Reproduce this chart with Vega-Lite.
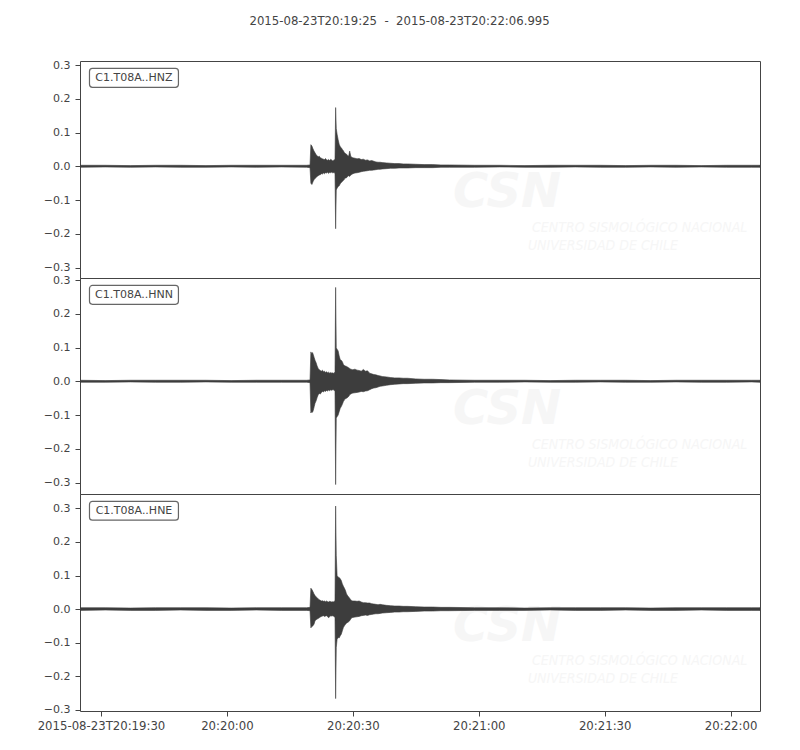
{
  "$schema": "https://vega.github.io/schema/vega-lite/v6.json",
  "padding": {"left": 36, "top": 15, "right": 10, "bottom": 10},
  "background": "white",
  "bounds": "flush",
  "spacing": 0,
  "title": {"text": "2015-08-23T20:19:25\u00a0\u00a0-\u00a0\u00a02015-08-23T20:22:06.995", "font": "DejaVu Sans", "fontSize": 11.7, "fontWeight": "normal", "color": "#444444", "anchor": "middle", "dx": 1, "offset": 31},
  "config": {
    "font": "DejaVu Sans",
    "view": {"stroke": "#444444", "strokeWidth": 1},
    "concat": {"spacing": 0}
  },
  "datasets": {
    "wave": [
      {"ch":"HNZ","t":0,"lo":-0.003,"hi":0.003},{"ch":"HNZ","t":6,"lo":-0.002,"hi":0.003},{"ch":"HNZ","t":12,"lo":-0.003,"hi":0.002},{"ch":"HNZ","t":18,"lo":-0.002,"hi":0.003},{"ch":"HNZ","t":24,"lo":-0.003,"hi":0.003},{"ch":"HNZ","t":30,"lo":-0.003,"hi":0.002},{"ch":"HNZ","t":36,"lo":-0.002,"hi":0.003},{"ch":"HNZ","t":42,"lo":-0.003,"hi":0.003},{"ch":"HNZ","t":48,"lo":-0.002,"hi":0.003},{"ch":"HNZ","t":54,"lo":-0.003,"hi":0.003},
      {"ch":"HNZ","t":54.8,"lo":-0.004,"hi":0.004},{"ch":"HNZ","t":55.0,"lo":-0.050,"hi":0.064},{"ch":"HNZ","t":55.25,"lo":-0.054,"hi":0.060},{"ch":"HNZ","t":55.5,"lo":-0.046,"hi":0.052},{"ch":"HNZ","t":55.75,"lo":-0.040,"hi":0.045},{"ch":"HNZ","t":56.0,"lo":-0.036,"hi":0.040},{"ch":"HNZ","t":56.25,"lo":-0.033,"hi":0.034},{"ch":"HNZ","t":56.5,"lo":-0.030,"hi":0.031},{"ch":"HNZ","t":56.75,"lo":-0.028,"hi":0.028},{"ch":"HNZ","t":57.0,"lo":-0.026,"hi":0.030},{"ch":"HNZ","t":57.25,"lo":-0.025,"hi":0.025},{"ch":"HNZ","t":57.5,"lo":-0.022,"hi":0.024},{"ch":"HNZ","t":57.75,"lo":-0.023,"hi":0.022},{"ch":"HNZ","t":58.0,"lo":-0.020,"hi":0.021},{"ch":"HNZ","t":58.25,"lo":-0.022,"hi":0.020},{"ch":"HNZ","t":58.5,"lo":-0.019,"hi":0.023},{"ch":"HNZ","t":58.75,"lo":-0.020,"hi":0.019},{"ch":"HNZ","t":59.0,"lo":-0.018,"hi":0.018},{"ch":"HNZ","t":59.25,"lo":-0.021,"hi":0.020},{"ch":"HNZ","t":59.5,"lo":-0.018,"hi":0.017},{"ch":"HNZ","t":59.75,"lo":-0.019,"hi":0.021},{"ch":"HNZ","t":60.0,"lo":-0.017,"hi":0.018},{"ch":"HNZ","t":60.25,"lo":-0.020,"hi":0.016},{"ch":"HNZ","t":60.5,"lo":-0.018,"hi":0.019},{"ch":"HNZ","t":60.75,"lo":-0.022,"hi":0.020},{"ch":"HNZ","t":60.9,"lo":-0.185,"hi":0.174},{"ch":"HNZ","t":61.05,"lo":-0.070,"hi":0.112},{"ch":"HNZ","t":61.25,"lo":-0.065,"hi":0.095},{"ch":"HNZ","t":61.5,"lo":-0.060,"hi":0.079},{"ch":"HNZ","t":61.75,"lo":-0.058,"hi":0.065},{"ch":"HNZ","t":62.0,"lo":-0.052,"hi":0.058},{"ch":"HNZ","t":62.25,"lo":-0.048,"hi":0.055},{"ch":"HNZ","t":62.5,"lo":-0.045,"hi":0.050},{"ch":"HNZ","t":62.75,"lo":-0.042,"hi":0.046},{"ch":"HNZ","t":63.0,"lo":-0.038,"hi":0.040},{"ch":"HNZ","t":63.25,"lo":-0.035,"hi":0.038},{"ch":"HNZ","t":63.5,"lo":-0.034,"hi":0.036},{"ch":"HNZ","t":63.75,"lo":-0.030,"hi":0.032},{"ch":"HNZ","t":64.0,"lo":-0.028,"hi":0.030},{"ch":"HNZ","t":64.25,"lo":-0.030,"hi":0.045},{"ch":"HNZ","t":64.5,"lo":-0.026,"hi":0.030},{"ch":"HNZ","t":64.75,"lo":-0.024,"hi":0.027},{"ch":"HNZ","t":65.0,"lo":-0.022,"hi":0.025},{"ch":"HNZ","t":65.5,"lo":-0.020,"hi":0.024},{"ch":"HNZ","t":66.0,"lo":-0.019,"hi":0.022},{"ch":"HNZ","t":66.5,"lo":-0.018,"hi":0.023},{"ch":"HNZ","t":67.0,"lo":-0.016,"hi":0.020},{"ch":"HNZ","t":67.5,"lo":-0.015,"hi":0.021},{"ch":"HNZ","t":68.0,"lo":-0.014,"hi":0.018},{"ch":"HNZ","t":68.5,"lo":-0.013,"hi":0.019},{"ch":"HNZ","t":69.0,"lo":-0.012,"hi":0.016},{"ch":"HNZ","t":69.5,"lo":-0.012,"hi":0.017},{"ch":"HNZ","t":70.0,"lo":-0.011,"hi":0.015},{"ch":"HNZ","t":70.5,"lo":-0.010,"hi":0.013},{"ch":"HNZ","t":71.0,"lo":-0.009,"hi":0.012},{"ch":"HNZ","t":71.5,"lo":-0.009,"hi":0.012},{"ch":"HNZ","t":72.0,"lo":-0.008,"hi":0.011},{"ch":"HNZ","t":73.0,"lo":-0.007,"hi":0.010},{"ch":"HNZ","t":74.0,"lo":-0.006,"hi":0.009},{"ch":"HNZ","t":75.0,"lo":-0.006,"hi":0.008},{"ch":"HNZ","t":76.0,"lo":-0.005,"hi":0.008},{"ch":"HNZ","t":77.0,"lo":-0.005,"hi":0.007},{"ch":"HNZ","t":78.0,"lo":-0.005,"hi":0.007},{"ch":"HNZ","t":80.0,"lo":-0.004,"hi":0.006},{"ch":"HNZ","t":82.0,"lo":-0.004,"hi":0.005},{"ch":"HNZ","t":84.0,"lo":-0.004,"hi":0.005},{"ch":"HNZ","t":86.0,"lo":-0.003,"hi":0.004},{"ch":"HNZ","t":88.0,"lo":-0.003,"hi":0.004},
      {"ch":"HNZ","t":94,"lo":-0.003,"hi":0.003},{"ch":"HNZ","t":100,"lo":-0.002,"hi":0.003},{"ch":"HNZ","t":106,"lo":-0.003,"hi":0.002},{"ch":"HNZ","t":112,"lo":-0.003,"hi":0.003},{"ch":"HNZ","t":118,"lo":-0.002,"hi":0.003},{"ch":"HNZ","t":124,"lo":-0.003,"hi":0.003},{"ch":"HNZ","t":130,"lo":-0.003,"hi":0.002},{"ch":"HNZ","t":136,"lo":-0.002,"hi":0.003},{"ch":"HNZ","t":142,"lo":-0.003,"hi":0.003},{"ch":"HNZ","t":148,"lo":-0.002,"hi":0.002},{"ch":"HNZ","t":154,"lo":-0.003,"hi":0.003},{"ch":"HNZ","t":160,"lo":-0.003,"hi":0.003},{"ch":"HNZ","t":162,"lo":-0.003,"hi":0.003},

      {"ch":"HNN","t":0,"lo":-0.003,"hi":0.003},{"ch":"HNN","t":6,"lo":-0.003,"hi":0.002},{"ch":"HNN","t":12,"lo":-0.002,"hi":0.003},{"ch":"HNN","t":18,"lo":-0.003,"hi":0.003},{"ch":"HNN","t":24,"lo":-0.003,"hi":0.003},{"ch":"HNN","t":30,"lo":-0.002,"hi":0.003},{"ch":"HNN","t":36,"lo":-0.003,"hi":0.002},{"ch":"HNN","t":42,"lo":-0.003,"hi":0.003},{"ch":"HNN","t":48,"lo":-0.003,"hi":0.003},{"ch":"HNN","t":54,"lo":-0.003,"hi":0.003},
      {"ch":"HNN","t":54.8,"lo":-0.004,"hi":0.004},{"ch":"HNN","t":55.0,"lo":-0.094,"hi":0.087},{"ch":"HNN","t":55.2,"lo":-0.090,"hi":0.082},{"ch":"HNN","t":55.4,"lo":-0.092,"hi":0.085},{"ch":"HNN","t":55.6,"lo":-0.085,"hi":0.078},{"ch":"HNN","t":55.8,"lo":-0.075,"hi":0.070},{"ch":"HNN","t":56.0,"lo":-0.065,"hi":0.062},{"ch":"HNN","t":56.25,"lo":-0.058,"hi":0.055},{"ch":"HNN","t":56.5,"lo":-0.048,"hi":0.045},{"ch":"HNN","t":56.75,"lo":-0.040,"hi":0.038},{"ch":"HNN","t":57.0,"lo":-0.036,"hi":0.034},{"ch":"HNN","t":57.25,"lo":-0.038,"hi":0.032},{"ch":"HNN","t":57.5,"lo":-0.033,"hi":0.030},{"ch":"HNN","t":57.75,"lo":-0.030,"hi":0.033},{"ch":"HNN","t":58.0,"lo":-0.032,"hi":0.028},{"ch":"HNN","t":58.25,"lo":-0.028,"hi":0.030},{"ch":"HNN","t":58.5,"lo":-0.030,"hi":0.026},{"ch":"HNN","t":58.75,"lo":-0.027,"hi":0.028},{"ch":"HNN","t":59.0,"lo":-0.029,"hi":0.025},{"ch":"HNN","t":59.25,"lo":-0.026,"hi":0.027},{"ch":"HNN","t":59.5,"lo":-0.028,"hi":0.024},{"ch":"HNN","t":59.75,"lo":-0.025,"hi":0.026},{"ch":"HNN","t":60.0,"lo":-0.027,"hi":0.024},{"ch":"HNN","t":60.25,"lo":-0.024,"hi":0.025},{"ch":"HNN","t":60.5,"lo":-0.026,"hi":0.023},{"ch":"HNN","t":60.75,"lo":-0.030,"hi":0.028},{"ch":"HNN","t":60.9,"lo":-0.306,"hi":0.278},{"ch":"HNN","t":61.05,"lo":-0.109,"hi":0.099},{"ch":"HNN","t":61.25,"lo":-0.105,"hi":0.095},{"ch":"HNN","t":61.5,"lo":-0.100,"hi":0.090},{"ch":"HNN","t":61.75,"lo":-0.090,"hi":0.075},{"ch":"HNN","t":62.0,"lo":-0.080,"hi":0.064},{"ch":"HNN","t":62.25,"lo":-0.075,"hi":0.062},{"ch":"HNN","t":62.5,"lo":-0.068,"hi":0.058},{"ch":"HNN","t":62.75,"lo":-0.060,"hi":0.050},{"ch":"HNN","t":63.0,"lo":-0.055,"hi":0.047},{"ch":"HNN","t":63.25,"lo":-0.052,"hi":0.045},{"ch":"HNN","t":63.5,"lo":-0.050,"hi":0.044},{"ch":"HNN","t":63.75,"lo":-0.048,"hi":0.042},{"ch":"HNN","t":64.0,"lo":-0.045,"hi":0.040},{"ch":"HNN","t":64.25,"lo":-0.040,"hi":0.038},{"ch":"HNN","t":64.5,"lo":-0.038,"hi":0.036},{"ch":"HNN","t":64.75,"lo":-0.036,"hi":0.035},{"ch":"HNN","t":65.0,"lo":-0.035,"hi":0.034},{"ch":"HNN","t":65.5,"lo":-0.034,"hi":0.036},{"ch":"HNN","t":66.0,"lo":-0.033,"hi":0.033},{"ch":"HNN","t":66.5,"lo":-0.032,"hi":0.032},{"ch":"HNN","t":67.0,"lo":-0.030,"hi":0.030},{"ch":"HNN","t":67.5,"lo":-0.031,"hi":0.035},{"ch":"HNN","t":68.0,"lo":-0.029,"hi":0.030},{"ch":"HNN","t":68.5,"lo":-0.028,"hi":0.031},{"ch":"HNN","t":69.0,"lo":-0.025,"hi":0.024},{"ch":"HNN","t":69.5,"lo":-0.022,"hi":0.022},{"ch":"HNN","t":70.0,"lo":-0.020,"hi":0.020},{"ch":"HNN","t":70.5,"lo":-0.019,"hi":0.019},{"ch":"HNN","t":71.0,"lo":-0.017,"hi":0.017},{"ch":"HNN","t":71.5,"lo":-0.015,"hi":0.016},{"ch":"HNN","t":72.0,"lo":-0.014,"hi":0.014},{"ch":"HNN","t":73.0,"lo":-0.012,"hi":0.013},{"ch":"HNN","t":74.0,"lo":-0.010,"hi":0.011},{"ch":"HNN","t":75.0,"lo":-0.009,"hi":0.010},{"ch":"HNN","t":76.0,"lo":-0.008,"hi":0.010},{"ch":"HNN","t":77.0,"lo":-0.007,"hi":0.009},{"ch":"HNN","t":78.0,"lo":-0.007,"hi":0.009},{"ch":"HNN","t":80.0,"lo":-0.006,"hi":0.007},{"ch":"HNN","t":82.0,"lo":-0.005,"hi":0.006},{"ch":"HNN","t":84.0,"lo":-0.005,"hi":0.006},{"ch":"HNN","t":86.0,"lo":-0.004,"hi":0.005},{"ch":"HNN","t":88.0,"lo":-0.004,"hi":0.004},
      {"ch":"HNN","t":94,"lo":-0.003,"hi":0.003},{"ch":"HNN","t":100,"lo":-0.003,"hi":0.003},{"ch":"HNN","t":106,"lo":-0.002,"hi":0.003},{"ch":"HNN","t":112,"lo":-0.003,"hi":0.002},{"ch":"HNN","t":118,"lo":-0.003,"hi":0.003},{"ch":"HNN","t":124,"lo":-0.002,"hi":0.003},{"ch":"HNN","t":130,"lo":-0.003,"hi":0.003},{"ch":"HNN","t":136,"lo":-0.003,"hi":0.002},{"ch":"HNN","t":142,"lo":-0.002,"hi":0.003},{"ch":"HNN","t":148,"lo":-0.003,"hi":0.003},{"ch":"HNN","t":154,"lo":-0.003,"hi":0.003},{"ch":"HNN","t":160,"lo":-0.002,"hi":0.003},{"ch":"HNN","t":162,"lo":-0.003,"hi":0.003},

      {"ch":"HNE","t":0,"lo":-0.004,"hi":0.004},{"ch":"HNE","t":6,"lo":-0.003,"hi":0.004},{"ch":"HNE","t":12,"lo":-0.004,"hi":0.003},{"ch":"HNE","t":18,"lo":-0.004,"hi":0.004},{"ch":"HNE","t":24,"lo":-0.003,"hi":0.004},{"ch":"HNE","t":30,"lo":-0.004,"hi":0.004},{"ch":"HNE","t":36,"lo":-0.004,"hi":0.003},{"ch":"HNE","t":42,"lo":-0.003,"hi":0.004},{"ch":"HNE","t":48,"lo":-0.004,"hi":0.004},{"ch":"HNE","t":54,"lo":-0.004,"hi":0.004},
      {"ch":"HNE","t":54.8,"lo":-0.005,"hi":0.005},{"ch":"HNE","t":55.0,"lo":-0.056,"hi":0.062},{"ch":"HNE","t":55.25,"lo":-0.052,"hi":0.058},{"ch":"HNE","t":55.5,"lo":-0.050,"hi":0.052},{"ch":"HNE","t":55.75,"lo":-0.045,"hi":0.045},{"ch":"HNE","t":56.0,"lo":-0.035,"hi":0.040},{"ch":"HNE","t":56.25,"lo":-0.032,"hi":0.036},{"ch":"HNE","t":56.5,"lo":-0.030,"hi":0.034},{"ch":"HNE","t":56.75,"lo":-0.028,"hi":0.030},{"ch":"HNE","t":57.0,"lo":-0.026,"hi":0.028},{"ch":"HNE","t":57.25,"lo":-0.024,"hi":0.026},{"ch":"HNE","t":57.5,"lo":-0.022,"hi":0.024},{"ch":"HNE","t":57.75,"lo":-0.021,"hi":0.025},{"ch":"HNE","t":58.0,"lo":-0.020,"hi":0.023},{"ch":"HNE","t":58.25,"lo":-0.022,"hi":0.024},{"ch":"HNE","t":58.5,"lo":-0.021,"hi":0.022},{"ch":"HNE","t":58.75,"lo":-0.020,"hi":0.024},{"ch":"HNE","t":59.0,"lo":-0.023,"hi":0.022},{"ch":"HNE","t":59.25,"lo":-0.026,"hi":0.021},{"ch":"HNE","t":59.5,"lo":-0.022,"hi":0.023},{"ch":"HNE","t":59.75,"lo":-0.020,"hi":0.022},{"ch":"HNE","t":60.0,"lo":-0.021,"hi":0.021},{"ch":"HNE","t":60.25,"lo":-0.020,"hi":0.022},{"ch":"HNE","t":60.5,"lo":-0.022,"hi":0.021},{"ch":"HNE","t":60.75,"lo":-0.025,"hi":0.026},{"ch":"HNE","t":60.9,"lo":-0.267,"hi":0.307},{"ch":"HNE","t":61.05,"lo":-0.115,"hi":0.160},{"ch":"HNE","t":61.25,"lo":-0.090,"hi":0.100},{"ch":"HNE","t":61.5,"lo":-0.085,"hi":0.095},{"ch":"HNE","t":61.75,"lo":-0.086,"hi":0.094},{"ch":"HNE","t":62.0,"lo":-0.080,"hi":0.090},{"ch":"HNE","t":62.25,"lo":-0.075,"hi":0.085},{"ch":"HNE","t":62.5,"lo":-0.065,"hi":0.075},{"ch":"HNE","t":62.75,"lo":-0.055,"hi":0.068},{"ch":"HNE","t":63.0,"lo":-0.050,"hi":0.062},{"ch":"HNE","t":63.25,"lo":-0.045,"hi":0.055},{"ch":"HNE","t":63.5,"lo":-0.042,"hi":0.045},{"ch":"HNE","t":63.75,"lo":-0.040,"hi":0.040},{"ch":"HNE","t":64.0,"lo":-0.038,"hi":0.036},{"ch":"HNE","t":64.25,"lo":-0.035,"hi":0.032},{"ch":"HNE","t":64.5,"lo":-0.030,"hi":0.028},{"ch":"HNE","t":64.75,"lo":-0.026,"hi":0.025},{"ch":"HNE","t":65.0,"lo":-0.025,"hi":0.024},{"ch":"HNE","t":65.5,"lo":-0.024,"hi":0.024},{"ch":"HNE","t":66.0,"lo":-0.023,"hi":0.023},{"ch":"HNE","t":66.5,"lo":-0.022,"hi":0.024},{"ch":"HNE","t":67.0,"lo":-0.020,"hi":0.021},{"ch":"HNE","t":67.5,"lo":-0.019,"hi":0.019},{"ch":"HNE","t":68.0,"lo":-0.018,"hi":0.019},{"ch":"HNE","t":68.5,"lo":-0.019,"hi":0.018},{"ch":"HNE","t":69.0,"lo":-0.017,"hi":0.018},{"ch":"HNE","t":69.5,"lo":-0.016,"hi":0.016},{"ch":"HNE","t":70.0,"lo":-0.015,"hi":0.015},{"ch":"HNE","t":70.5,"lo":-0.014,"hi":0.014},{"ch":"HNE","t":71.0,"lo":-0.014,"hi":0.013},{"ch":"HNE","t":71.5,"lo":-0.013,"hi":0.014},{"ch":"HNE","t":72.0,"lo":-0.012,"hi":0.013},{"ch":"HNE","t":73.0,"lo":-0.011,"hi":0.011},{"ch":"HNE","t":74.0,"lo":-0.010,"hi":0.010},{"ch":"HNE","t":75.0,"lo":-0.009,"hi":0.009},{"ch":"HNE","t":76.0,"lo":-0.009,"hi":0.009},{"ch":"HNE","t":77.0,"lo":-0.008,"hi":0.008},{"ch":"HNE","t":78.0,"lo":-0.008,"hi":0.008},{"ch":"HNE","t":80.0,"lo":-0.007,"hi":0.007},{"ch":"HNE","t":82.0,"lo":-0.006,"hi":0.006},{"ch":"HNE","t":84.0,"lo":-0.006,"hi":0.006},{"ch":"HNE","t":86.0,"lo":-0.005,"hi":0.005},{"ch":"HNE","t":88.0,"lo":-0.005,"hi":0.005},
      {"ch":"HNE","t":94,"lo":-0.004,"hi":0.004},{"ch":"HNE","t":100,"lo":-0.004,"hi":0.004},{"ch":"HNE","t":106,"lo":-0.004,"hi":0.003},{"ch":"HNE","t":112,"lo":-0.003,"hi":0.004},{"ch":"HNE","t":118,"lo":-0.004,"hi":0.004},{"ch":"HNE","t":124,"lo":-0.004,"hi":0.004},{"ch":"HNE","t":130,"lo":-0.003,"hi":0.004},{"ch":"HNE","t":136,"lo":-0.004,"hi":0.003},{"ch":"HNE","t":142,"lo":-0.004,"hi":0.004},{"ch":"HNE","t":148,"lo":-0.003,"hi":0.004},{"ch":"HNE","t":154,"lo":-0.004,"hi":0.004},{"ch":"HNE","t":160,"lo":-0.004,"hi":0.004},{"ch":"HNE","t":162,"lo":-0.004,"hi":0.004}
    ],
    "labels": [
      {"ch":"HNZ","t":2.26,"t2":23.45,"lo":0.234,"hi":0.290,"tc":12.86,"yc":0.262,"txt":"C1.T08A..HNZ"},
      {"ch":"HNN","t":2.26,"t2":23.45,"lo":0.228,"hi":0.284,"tc":12.86,"yc":0.256,"txt":"C1.T08A..HNN"},
      {"ch":"HNE","t":2.26,"t2":23.45,"lo":0.265,"hi":0.321,"tc":12.86,"yc":0.293,"txt":"C1.T08A..HNE"}
    ],
    "wm": [
      {"ch":"HNZ","kind":"logo","t":88.85,"a":-0.122,"txt":"CSN"},
      {"ch":"HNZ","kind":"line","t":107.7,"a":-0.196,"txt":"CENTRO SISMOLÓGICO NACIONAL"},
      {"ch":"HNZ","kind":"line","t":106.7,"a":-0.249,"txt":"UNIVERSIDAD DE CHILE"},
      {"ch":"HNN","kind":"logo","t":88.85,"a":-0.127,"txt":"CSN"},
      {"ch":"HNN","kind":"line","t":107.7,"a":-0.201,"txt":"CENTRO SISMOLÓGICO NACIONAL"},
      {"ch":"HNN","kind":"line","t":106.7,"a":-0.254,"txt":"UNIVERSIDAD DE CHILE"},
      {"ch":"HNE","kind":"logo","t":88.85,"a":-0.094,"txt":"CSN"},
      {"ch":"HNE","kind":"line","t":107.7,"a":-0.168,"txt":"CENTRO SISMOLÓGICO NACIONAL"},
      {"ch":"HNE","kind":"line","t":106.7,"a":-0.222,"txt":"UNIVERSIDAD DE CHILE"}
    ]
  },
  "vconcat": [
    {
      "width": 680, "height": 217,
      "layer": [
        {"data": {"name": "wm"}, "transform": [{"filter": "datum.ch=='HNZ' && datum.kind=='logo'"}],
         "mark": {"type": "text", "align": "left", "baseline": "alphabetic", "font": "DejaVu Sans", "fontSize": 48, "fontStyle": "italic", "fontWeight": "bold", "color": "#f6f6f6", "clip": true},
         "encoding": {"x": {"field": "t", "type": "quantitative", "scale": {"domain": [0, 162], "nice": false, "zero": false}, "axis": null},
                      "y": {"field": "a", "type": "quantitative", "scale": {"domain": [-0.331, 0.312], "nice": false, "zero": false}, "axis": {"values": [-0.3, -0.2, -0.1, 0, 0.1, 0.2, 0.3], "format": ".1f", "title": null, "grid": false, "domain": false, "tickSize": 5, "labelPadding": 5, "labelFont": "DejaVu Sans", "labelFontSize": 11, "labelColor": "#444444", "tickColor": "#444444", "labelOverlap": false, "labelBound": false}},
                      "text": {"field": "txt"}}},
        {"data": {"name": "wm"}, "transform": [{"filter": "datum.ch=='HNZ' && datum.kind=='line'"}],
         "mark": {"type": "text", "align": "left", "baseline": "alphabetic", "font": "DejaVu Sans Condensed", "fontSize": 14, "fontStyle": "italic", "color": "#f6f6f6", "clip": true},
         "encoding": {"x": {"field": "t", "type": "quantitative", "scale": {"domain": [0, 162], "nice": false, "zero": false}, "axis": null},
                      "y": {"field": "a", "type": "quantitative", "scale": {"domain": [-0.331, 0.312], "nice": false, "zero": false}, "axis": {"values": [-0.3, -0.2, -0.1, 0, 0.1, 0.2, 0.3], "format": ".1f", "title": null, "grid": false, "domain": false, "tickSize": 5, "labelPadding": 5, "labelFont": "DejaVu Sans", "labelFontSize": 11, "labelColor": "#444444", "tickColor": "#444444", "labelOverlap": false, "labelBound": false}},
                      "text": {"field": "txt"}}},
        {"data": {"name": "wave"}, "transform": [{"filter": "datum.ch=='HNZ'"}],
         "mark": {"type": "area", "color": "#3d3d3d", "stroke": "#3d3d3d", "strokeWidth": 0.6, "clip": true},
         "encoding": {"x": {"field": "t", "type": "quantitative", "scale": {"domain": [0, 162], "nice": false, "zero": false}, "axis": null},
                      "y": {"field": "lo", "type": "quantitative", "scale": {"domain": [-0.331, 0.312], "nice": false, "zero": false}, "axis": {"values": [-0.3, -0.2, -0.1, 0, 0.1, 0.2, 0.3], "format": ".1f", "title": null, "grid": false, "domain": false, "tickSize": 5, "labelPadding": 5, "labelFont": "DejaVu Sans", "labelFontSize": 11, "labelColor": "#444444", "tickColor": "#444444", "labelOverlap": false, "labelBound": false}},
                      "y2": {"field": "hi"}}},
        {"data": {"name": "labels"}, "transform": [{"filter": "datum.ch=='HNZ'"}],
         "mark": {"type": "rect", "fill": "white", "stroke": "#666666", "strokeWidth": 1.2, "cornerRadius": 3},
         "encoding": {"x": {"field": "t", "type": "quantitative", "scale": {"domain": [0, 162], "nice": false, "zero": false}, "axis": null}, "x2": {"field": "t2"},
                      "y": {"field": "lo", "type": "quantitative", "scale": {"domain": [-0.331, 0.312], "nice": false, "zero": false}, "axis": {"values": [-0.3, -0.2, -0.1, 0, 0.1, 0.2, 0.3], "format": ".1f", "title": null, "grid": false, "domain": false, "tickSize": 5, "labelPadding": 5, "labelFont": "DejaVu Sans", "labelFontSize": 11, "labelColor": "#444444", "tickColor": "#444444", "labelOverlap": false, "labelBound": false}}, "y2": {"field": "hi"}}},
        {"data": {"name": "labels"}, "transform": [{"filter": "datum.ch=='HNZ'"}],
         "mark": {"type": "text", "font": "DejaVu Sans", "fontSize": 11, "color": "#444444", "align": "center", "baseline": "middle"},
         "encoding": {"x": {"field": "tc", "type": "quantitative", "scale": {"domain": [0, 162], "nice": false, "zero": false}, "axis": null},
                      "y": {"field": "yc", "type": "quantitative", "scale": {"domain": [-0.331, 0.312], "nice": false, "zero": false}, "axis": {"values": [-0.3, -0.2, -0.1, 0, 0.1, 0.2, 0.3], "format": ".1f", "title": null, "grid": false, "domain": false, "tickSize": 5, "labelPadding": 5, "labelFont": "DejaVu Sans", "labelFontSize": 11, "labelColor": "#444444", "tickColor": "#444444", "labelOverlap": false, "labelBound": false}},
                      "text": {"field": "txt"}}}
      ]
    },
    {
      "width": 680, "height": 216,
      "layer": [
        {"data": {"name": "wm"}, "transform": [{"filter": "datum.ch=='HNN' && datum.kind=='logo'"}],
         "mark": {"type": "text", "align": "left", "baseline": "alphabetic", "font": "DejaVu Sans", "fontSize": 48, "fontStyle": "italic", "fontWeight": "bold", "color": "#f6f6f6", "clip": true},
         "encoding": {"x": {"field": "t", "type": "quantitative", "scale": {"domain": [0, 162], "nice": false, "zero": false}, "axis": null},
                      "y": {"field": "a", "type": "quantitative", "scale": {"domain": [-0.334, 0.306], "nice": false, "zero": false}, "axis": {"values": [-0.3, -0.2, -0.1, 0, 0.1, 0.2, 0.3], "format": ".1f", "title": null, "grid": false, "domain": false, "tickSize": 5, "labelPadding": 5, "labelFont": "DejaVu Sans", "labelFontSize": 11, "labelColor": "#444444", "tickColor": "#444444", "labelOverlap": false, "labelBound": false}},
                      "text": {"field": "txt"}}},
        {"data": {"name": "wm"}, "transform": [{"filter": "datum.ch=='HNN' && datum.kind=='line'"}],
         "mark": {"type": "text", "align": "left", "baseline": "alphabetic", "font": "DejaVu Sans Condensed", "fontSize": 14, "fontStyle": "italic", "color": "#f6f6f6", "clip": true},
         "encoding": {"x": {"field": "t", "type": "quantitative", "scale": {"domain": [0, 162], "nice": false, "zero": false}, "axis": null},
                      "y": {"field": "a", "type": "quantitative", "scale": {"domain": [-0.334, 0.306], "nice": false, "zero": false}, "axis": {"values": [-0.3, -0.2, -0.1, 0, 0.1, 0.2, 0.3], "format": ".1f", "title": null, "grid": false, "domain": false, "tickSize": 5, "labelPadding": 5, "labelFont": "DejaVu Sans", "labelFontSize": 11, "labelColor": "#444444", "tickColor": "#444444", "labelOverlap": false, "labelBound": false}},
                      "text": {"field": "txt"}}},
        {"data": {"name": "wave"}, "transform": [{"filter": "datum.ch=='HNN'"}],
         "mark": {"type": "area", "color": "#3d3d3d", "stroke": "#3d3d3d", "strokeWidth": 0.6, "clip": true},
         "encoding": {"x": {"field": "t", "type": "quantitative", "scale": {"domain": [0, 162], "nice": false, "zero": false}, "axis": null},
                      "y": {"field": "lo", "type": "quantitative", "scale": {"domain": [-0.334, 0.306], "nice": false, "zero": false}, "axis": {"values": [-0.3, -0.2, -0.1, 0, 0.1, 0.2, 0.3], "format": ".1f", "title": null, "grid": false, "domain": false, "tickSize": 5, "labelPadding": 5, "labelFont": "DejaVu Sans", "labelFontSize": 11, "labelColor": "#444444", "tickColor": "#444444", "labelOverlap": false, "labelBound": false}},
                      "y2": {"field": "hi"}}},
        {"data": {"name": "labels"}, "transform": [{"filter": "datum.ch=='HNN'"}],
         "mark": {"type": "rect", "fill": "white", "stroke": "#666666", "strokeWidth": 1.2, "cornerRadius": 3},
         "encoding": {"x": {"field": "t", "type": "quantitative", "scale": {"domain": [0, 162], "nice": false, "zero": false}, "axis": null}, "x2": {"field": "t2"},
                      "y": {"field": "lo", "type": "quantitative", "scale": {"domain": [-0.334, 0.306], "nice": false, "zero": false}, "axis": {"values": [-0.3, -0.2, -0.1, 0, 0.1, 0.2, 0.3], "format": ".1f", "title": null, "grid": false, "domain": false, "tickSize": 5, "labelPadding": 5, "labelFont": "DejaVu Sans", "labelFontSize": 11, "labelColor": "#444444", "tickColor": "#444444", "labelOverlap": false, "labelBound": false}}, "y2": {"field": "hi"}}},
        {"data": {"name": "labels"}, "transform": [{"filter": "datum.ch=='HNN'"}],
         "mark": {"type": "text", "font": "DejaVu Sans", "fontSize": 11, "color": "#444444", "align": "center", "baseline": "middle"},
         "encoding": {"x": {"field": "tc", "type": "quantitative", "scale": {"domain": [0, 162], "nice": false, "zero": false}, "axis": null},
                      "y": {"field": "yc", "type": "quantitative", "scale": {"domain": [-0.334, 0.306], "nice": false, "zero": false}, "axis": {"values": [-0.3, -0.2, -0.1, 0, 0.1, 0.2, 0.3], "format": ".1f", "title": null, "grid": false, "domain": false, "tickSize": 5, "labelPadding": 5, "labelFont": "DejaVu Sans", "labelFontSize": 11, "labelColor": "#444444", "tickColor": "#444444", "labelOverlap": false, "labelBound": false}},
                      "text": {"field": "txt"}}}
      ]
    },
    {
      "width": 680, "height": 217,
      "layer": [
        {"data": {"name": "wm"}, "transform": [{"filter": "datum.ch=='HNE' && datum.kind=='logo'"}],
         "mark": {"type": "text", "align": "left", "baseline": "alphabetic", "font": "DejaVu Sans", "fontSize": 48, "fontStyle": "italic", "fontWeight": "bold", "color": "#f6f6f6", "clip": true},
         "encoding": {"x": {"field": "t", "type": "quantitative", "scale": {"domain": [0, 162], "nice": false, "zero": false}, "axis": {"values": [5, 35, 65, 95, 125, 155], "labelExpr": "datum.value == 5 ? '2015-08-23T20:19:30' : datum.value == 35 ? '20:20:00' : datum.value == 65 ? '20:20:30' : datum.value == 95 ? '20:21:00' : datum.value == 125 ? '20:21:30' : '20:22:00'", "title": null, "grid": false, "domain": false, "tickSize": 5, "labelPadding": 3, "labelFont": "DejaVu Sans Condensed", "labelFontSize": 13, "labelColor": "#444444", "tickColor": "#444444", "labelOverlap": false, "labelBound": false, "labelFlush": false}},
                      "y": {"field": "a", "type": "quantitative", "scale": {"domain": [-0.304, 0.343], "nice": false, "zero": false}, "axis": {"values": [-0.3, -0.2, -0.1, 0, 0.1, 0.2, 0.3], "format": ".1f", "title": null, "grid": false, "domain": false, "tickSize": 5, "labelPadding": 5, "labelFont": "DejaVu Sans", "labelFontSize": 11, "labelColor": "#444444", "tickColor": "#444444", "labelOverlap": false, "labelBound": false}},
                      "text": {"field": "txt"}}},
        {"data": {"name": "wm"}, "transform": [{"filter": "datum.ch=='HNE' && datum.kind=='line'"}],
         "mark": {"type": "text", "align": "left", "baseline": "alphabetic", "font": "DejaVu Sans Condensed", "fontSize": 14, "fontStyle": "italic", "color": "#f6f6f6", "clip": true},
         "encoding": {"x": {"field": "t", "type": "quantitative", "scale": {"domain": [0, 162], "nice": false, "zero": false}, "axis": {"values": [5, 35, 65, 95, 125, 155], "labelExpr": "datum.value == 5 ? '2015-08-23T20:19:30' : datum.value == 35 ? '20:20:00' : datum.value == 65 ? '20:20:30' : datum.value == 95 ? '20:21:00' : datum.value == 125 ? '20:21:30' : '20:22:00'", "title": null, "grid": false, "domain": false, "tickSize": 5, "labelPadding": 3, "labelFont": "DejaVu Sans Condensed", "labelFontSize": 13, "labelColor": "#444444", "tickColor": "#444444", "labelOverlap": false, "labelBound": false, "labelFlush": false}},
                      "y": {"field": "a", "type": "quantitative", "scale": {"domain": [-0.304, 0.343], "nice": false, "zero": false}, "axis": {"values": [-0.3, -0.2, -0.1, 0, 0.1, 0.2, 0.3], "format": ".1f", "title": null, "grid": false, "domain": false, "tickSize": 5, "labelPadding": 5, "labelFont": "DejaVu Sans", "labelFontSize": 11, "labelColor": "#444444", "tickColor": "#444444", "labelOverlap": false, "labelBound": false}},
                      "text": {"field": "txt"}}},
        {"data": {"name": "wave"}, "transform": [{"filter": "datum.ch=='HNE'"}],
         "mark": {"type": "area", "color": "#3d3d3d", "stroke": "#3d3d3d", "strokeWidth": 0.6, "clip": true},
         "encoding": {"x": {"field": "t", "type": "quantitative", "scale": {"domain": [0, 162], "nice": false, "zero": false}, "axis": {"values": [5, 35, 65, 95, 125, 155], "labelExpr": "datum.value == 5 ? '2015-08-23T20:19:30' : datum.value == 35 ? '20:20:00' : datum.value == 65 ? '20:20:30' : datum.value == 95 ? '20:21:00' : datum.value == 125 ? '20:21:30' : '20:22:00'", "title": null, "grid": false, "domain": false, "tickSize": 5, "labelPadding": 3, "labelFont": "DejaVu Sans Condensed", "labelFontSize": 13, "labelColor": "#444444", "tickColor": "#444444", "labelOverlap": false, "labelBound": false, "labelFlush": false}},
                      "y": {"field": "lo", "type": "quantitative", "scale": {"domain": [-0.304, 0.343], "nice": false, "zero": false}, "axis": {"values": [-0.3, -0.2, -0.1, 0, 0.1, 0.2, 0.3], "format": ".1f", "title": null, "grid": false, "domain": false, "tickSize": 5, "labelPadding": 5, "labelFont": "DejaVu Sans", "labelFontSize": 11, "labelColor": "#444444", "tickColor": "#444444", "labelOverlap": false, "labelBound": false}},
                      "y2": {"field": "hi"}}},
        {"data": {"name": "labels"}, "transform": [{"filter": "datum.ch=='HNE'"}],
         "mark": {"type": "rect", "fill": "white", "stroke": "#666666", "strokeWidth": 1.2, "cornerRadius": 3},
         "encoding": {"x": {"field": "t", "type": "quantitative", "scale": {"domain": [0, 162], "nice": false, "zero": false}, "axis": {"values": [5, 35, 65, 95, 125, 155], "labelExpr": "datum.value == 5 ? '2015-08-23T20:19:30' : datum.value == 35 ? '20:20:00' : datum.value == 65 ? '20:20:30' : datum.value == 95 ? '20:21:00' : datum.value == 125 ? '20:21:30' : '20:22:00'", "title": null, "grid": false, "domain": false, "tickSize": 5, "labelPadding": 3, "labelFont": "DejaVu Sans Condensed", "labelFontSize": 13, "labelColor": "#444444", "tickColor": "#444444", "labelOverlap": false, "labelBound": false, "labelFlush": false}}, "x2": {"field": "t2"},
                      "y": {"field": "lo", "type": "quantitative", "scale": {"domain": [-0.304, 0.343], "nice": false, "zero": false}, "axis": {"values": [-0.3, -0.2, -0.1, 0, 0.1, 0.2, 0.3], "format": ".1f", "title": null, "grid": false, "domain": false, "tickSize": 5, "labelPadding": 5, "labelFont": "DejaVu Sans", "labelFontSize": 11, "labelColor": "#444444", "tickColor": "#444444", "labelOverlap": false, "labelBound": false}}, "y2": {"field": "hi"}}},
        {"data": {"name": "labels"}, "transform": [{"filter": "datum.ch=='HNE'"}],
         "mark": {"type": "text", "font": "DejaVu Sans", "fontSize": 11, "color": "#444444", "align": "center", "baseline": "middle"},
         "encoding": {"x": {"field": "tc", "type": "quantitative", "scale": {"domain": [0, 162], "nice": false, "zero": false}, "axis": {"values": [5, 35, 65, 95, 125, 155], "labelExpr": "datum.value == 5 ? '2015-08-23T20:19:30' : datum.value == 35 ? '20:20:00' : datum.value == 65 ? '20:20:30' : datum.value == 95 ? '20:21:00' : datum.value == 125 ? '20:21:30' : '20:22:00'", "title": null, "grid": false, "domain": false, "tickSize": 5, "labelPadding": 3, "labelFont": "DejaVu Sans Condensed", "labelFontSize": 13, "labelColor": "#444444", "tickColor": "#444444", "labelOverlap": false, "labelBound": false, "labelFlush": false}},
                      "y": {"field": "yc", "type": "quantitative", "scale": {"domain": [-0.304, 0.343], "nice": false, "zero": false}, "axis": {"values": [-0.3, -0.2, -0.1, 0, 0.1, 0.2, 0.3], "format": ".1f", "title": null, "grid": false, "domain": false, "tickSize": 5, "labelPadding": 5, "labelFont": "DejaVu Sans", "labelFontSize": 11, "labelColor": "#444444", "tickColor": "#444444", "labelOverlap": false, "labelBound": false}},
                      "text": {"field": "txt"}}}
      ]
    }
  ]
}
